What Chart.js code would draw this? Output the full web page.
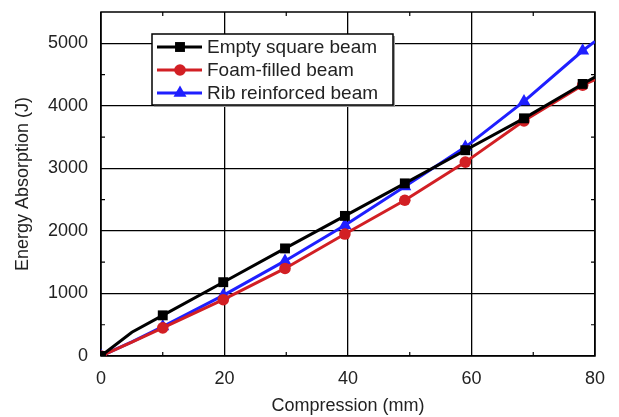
<!DOCTYPE html>
<html>
<head>
<meta charset="utf-8">
<script src="https://cdn.jsdelivr.net/npm/chart.js@4.4.1/dist/chart.umd.min.js"></script>
<style>
  html, body { margin: 0; padding: 0; background: #fff; }
  #wrap { width: 619px; height: 417px; }
</style>
</head>
<body>
<div id="wrap"><canvas id="energyChart" width="619" height="417"></canvas></div>
<script>
// compression (mm) where each series was sampled
const compression = [0, 5, 10, 19.8, 29.8, 39.5, 49.2, 59, 68.5, 78, 80];
// which samples carry a marker (the 5 mm kink and the 80 mm end do not)
const markerAt = [1, 0, 1, 1, 1, 1, 1, 1, 1, 1, 0];

const emptyBeam = [0, 380, 650, 1180, 1720, 2240, 2760, 3290, 3800, 4350, 4460];
const foamBeam  = [0, 220, 450, 900, 1400, 1950, 2490, 3100, 3760, 4330, 4420];
const ribBeam   = [0, 225, 470, 970, 1520, 2090, 2710, 3340, 4070, 4880, 5030];

const seriesNames = ['Empty square beam', 'Foam-filled beam', 'Rib reinforced beam'];
const seriesColors = ['#000000', '#d21f24', '#1f1fff'];
const seriesMarkers = ['rect', 'circle', 'triangle'];
const markerSize = [7, 5.8, 7.5];

const xTicks = [0, 20, 40, 60, 80];
const yTicks = [0, 1000, 2000, 3000, 4000, 5000];

const FONT = 'Arial, "Liberation Sans", sans-serif';

function toPoints(values) {
    return compression.map((x, i) => ({ x: x, y: values[i] }));
}

const datasets = [emptyBeam, foamBeam, ribBeam].map((vals, k) => ({
    label: seriesNames[k],
    data: toPoints(vals),
    borderColor: seriesColors[k],
    backgroundColor: seriesColors[k],
    borderWidth: 3,
    pointStyle: seriesMarkers[k],
    pointRadius: markerAt.map(m => m ? markerSize[k] : 0),
    pointBorderWidth: 0,
    tension: 0
}));

// box around the plot plus the small inward minor ticks
const framePlugin = {
    id: 'frame',
    beforeDatasetsDraw(chart) {
        const { ctx, chartArea: a, scales } = chart;
        ctx.save();
        ctx.strokeStyle = '#000';
        ctx.lineWidth = 1.5;
        ctx.strokeRect(a.left, a.top, a.right - a.left, a.bottom - a.top);
        ctx.lineWidth = 1.2;
        [10, 30, 50, 70].forEach(v => {
            const px = scales.x.getPixelForValue(v);
            ctx.beginPath();
            ctx.moveTo(px, a.bottom); ctx.lineTo(px, a.bottom - 4);
            ctx.moveTo(px, a.top); ctx.lineTo(px, a.top + 4);
            ctx.stroke();
        });
        [500, 1500, 2500, 3500, 4500].forEach(v => {
            const py = scales.y.getPixelForValue(v);
            ctx.beginPath();
            ctx.moveTo(a.left, py); ctx.lineTo(a.left + 4, py);
            ctx.moveTo(a.right, py); ctx.lineTo(a.right - 4, py);
            ctx.stroke();
        });
        ctx.restore();
    }
};

// legend drawn inside the plot, top left
const boxLegendPlugin = {
    id: 'boxLegend',
    afterDatasetsDraw(chart) {
        const { ctx } = chart;
        const x0 = 152, y0 = 34, w = 241, h = 71;
        ctx.save();
        ctx.fillStyle = '#9a9a9a';
        ctx.fillRect(x0 + 2, y0 + 2, w, h);
        ctx.fillStyle = '#fff';
        ctx.fillRect(x0, y0, w, h);
        ctx.strokeStyle = '#000';
        ctx.lineWidth = 1.5;
        ctx.strokeRect(x0, y0, w, h);
        ctx.font = '19px ' + FONT;
        ctx.textBaseline = 'middle';
        chart.data.datasets.forEach((ds, i) => {
            const cy = y0 + 13 + i * 23;
            ctx.strokeStyle = ds.borderColor;
            ctx.lineWidth = 3;
            ctx.beginPath();
            ctx.moveTo(x0 + 5, cy);
            ctx.lineTo(x0 + 50, cy);
            ctx.stroke();
            ctx.fillStyle = ds.borderColor;
            Chart.helpers.drawPoint(ctx, {
                pointStyle: ds.pointStyle,
                radius: markerSize[i],
                borderWidth: 0
            }, x0 + 28, cy);
            ctx.fillStyle = '#222';
            ctx.fillText(ds.label, x0 + 55, cy + 1);
        });
        ctx.restore();
    }
};

new Chart(document.getElementById('energyChart').getContext('2d'), {
    type: 'line',
    data: { datasets: datasets },
    options: {
        responsive: false,
        animation: false,
        layout: { padding: { top: 12, right: 24, left: 0, bottom: 0 } },
        plugins: {
            legend: { display: false },
            tooltip: { enabled: false }
        },
        scales: {
            x: {
                type: 'linear',
                min: 0,
                max: 80,
                afterBuildTicks: s => { s.ticks = xTicks.map(v => ({ value: v })); },
                ticks: { color: '#222', font: { size: 18, family: FONT }, padding: 12 },
                grid: { color: '#000', lineWidth: 1.3, drawTicks: false },
                border: { display: false },
                title: {
                    display: true,
                    text: 'Compression (mm)',
                    color: '#222',
                    font: { size: 18, family: FONT },
                    padding: { top: 4, bottom: 0 }
                },
                afterFit: s => {
                    s.height = 61;
                    s.paddingLeft = 0;
                    s.paddingRight = 0;
                }
            },
            y: {
                type: 'linear',
                min: 0,
                max: 5500,
                afterBuildTicks: s => { s.ticks = yTicks.map(v => ({ value: v })); },
                ticks: {
                    color: '#222',
                    font: { size: 18, family: FONT },
                    padding: 13,
                    callback: v => String(v)
                },
                grid: { color: '#000', lineWidth: 1.3, drawTicks: false },
                border: { display: false },
                title: {
                    display: true,
                    text: 'Energy Absorption (J)',
                    color: '#222',
                    font: { size: 18, family: FONT },
                    padding: { top: 12, bottom: 0 }
                },
                afterFit: s => {
                    s.width = 101;
                    s.paddingTop = 0;
                    s.paddingBottom = 0;
                }
            }
        }
    },
    plugins: [framePlugin, boxLegendPlugin]
});
</script>
</body>
</html>
